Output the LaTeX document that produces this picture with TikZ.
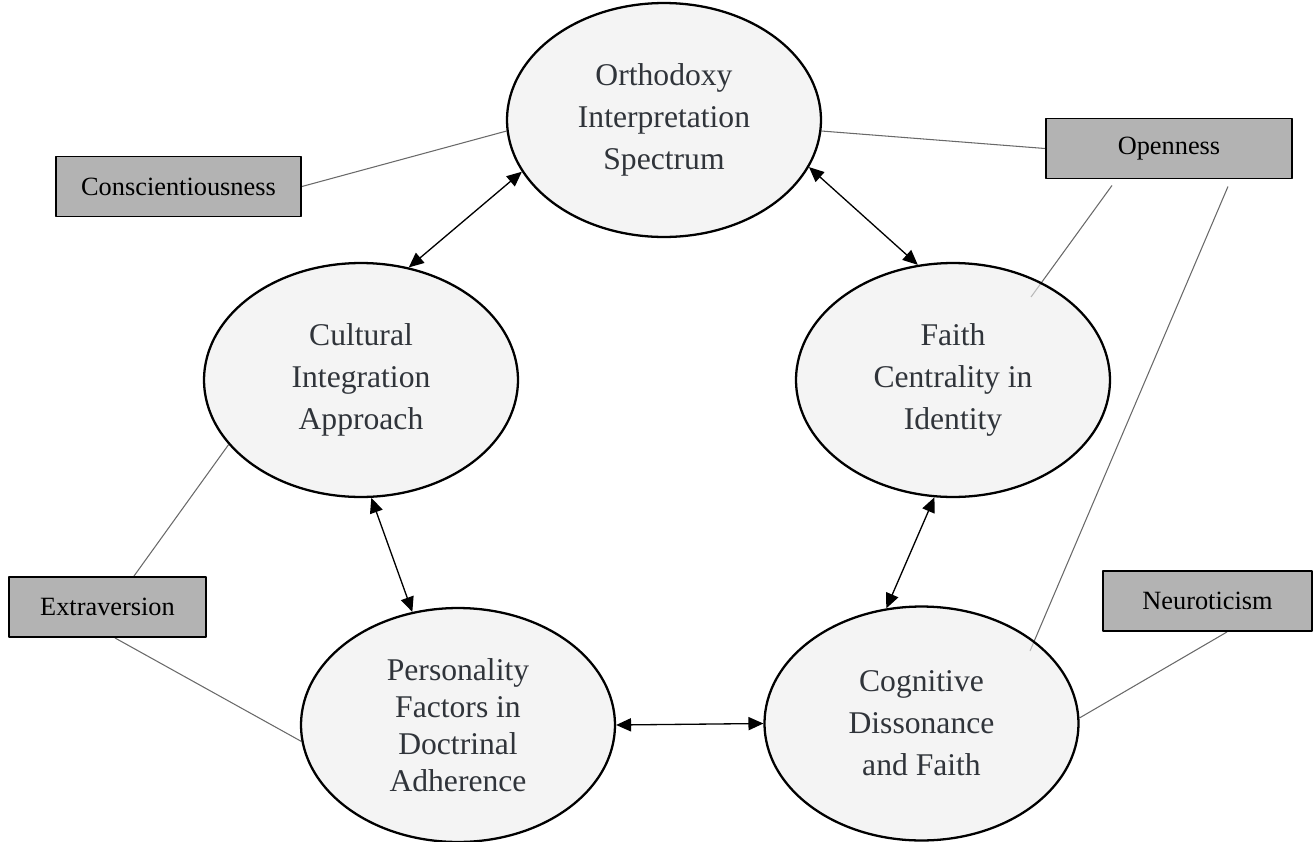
\documentclass[tikz,border=0pt]{standalone}
\usepackage{fontspec}
\setmainfont{Liberation Serif}
\usetikzlibrary{calc,arrows.meta,shapes.geometric,backgrounds}
\definecolor{ovalfill}{RGB}{237,237,237}
\definecolor{ovaltext}{RGB}{48,52,58}
\definecolor{boxfill}{RGB}{179,179,179}
\definecolor{tiegray}{RGB}{105,105,105}

\begin{document}
\begin{tikzpicture}[x=0.02cm, y=-0.02cm, >={Triangle[length=8.5pt,width=7.5pt]}, line join=round,
    factor/.style={ellipse, draw, line width=1.3pt, fill=ovalfill, fill opacity=0.6, text opacity=1,
      text=ovaltext, minimum width=6.28cm, minimum height=4.68cm, inner sep=0pt, align=center,
      font=\fontsize{18}{24}\selectfont},
    trait/.style={draw, line width=1.1pt, fill=boxfill, minimum height=1.2cm, inner sep=0pt,
      font=\fontsize{15}{18}\selectfont},
    link/.style={<->, line width=0.75pt},
    tie/.style={draw=tiegray, line width=0.6pt}]
    \useasboundingbox (0,0) rectangle (1313,842);

    % factors
    \node[factor] (top) at (664,120) {Orthodoxy\\Interpretation\\Spectrum};
    \node[factor] (cult) at (361,380) {Cultural\\Integration\\Approach};
    \node[factor] (faith) at (953,380) {Faith\\Centrality in\\Identity};
    \node[factor, font=\fontsize{18}{21}\selectfont] (pers) at (458,725) {Personality\\Factors in\\Doctrinal\\Adherence};
    \node[factor] (cogn) at (921.5,723.5) {Cognitive\\Dissonance\\and Faith};

    % traits
    \node[trait, minimum width=4.9cm] (consc) at (178.5,186.5) {Conscientiousness};
    \node[trait, minimum width=4.92cm] (open) at (1169,148.5) {Openness};
    \node[trait, minimum width=4.18cm] (neuro) at (1207.5,601) {Neuroticism};
    \node[trait, minimum width=3.94cm] (extra) at (107.5,607) {Extraversion};

    % two-way links
    \draw[link] (top.200) -- (cult.67);
    \draw[link] (top.342) -- (faith.107);
    \draw[link] (cult.275) -- (pers.112);
    \draw[link] (faith.261) -- (cogn.107);
    \draw[link] (pers.0) -- (cogn.180);

    % trait ties
    \begin{scope}[on background layer]
      \draw[tie] (consc.east) -- (top.184);
      \draw[tie] (top.356) -- (open.west);
      \draw[tie] ($(open.south)+(-57,6)$) -- ($(faith)+(78,-83)$);
      \draw[tie] ($(open.south)+(59,7)$) -- ($(cogn)+(108.5,-72.5)$);
      \draw[tie] ($(neuro.south)+(19.5,0)$) -- (cogn.2);
      \draw[tie] ($(extra.north)+(26.5,0)$) -- (cult.206);
      \draw[tie] ($(extra.south)+(7.5,0)$) -- (pers.186);
    \end{scope}
  \end{tikzpicture}
\end{document}
